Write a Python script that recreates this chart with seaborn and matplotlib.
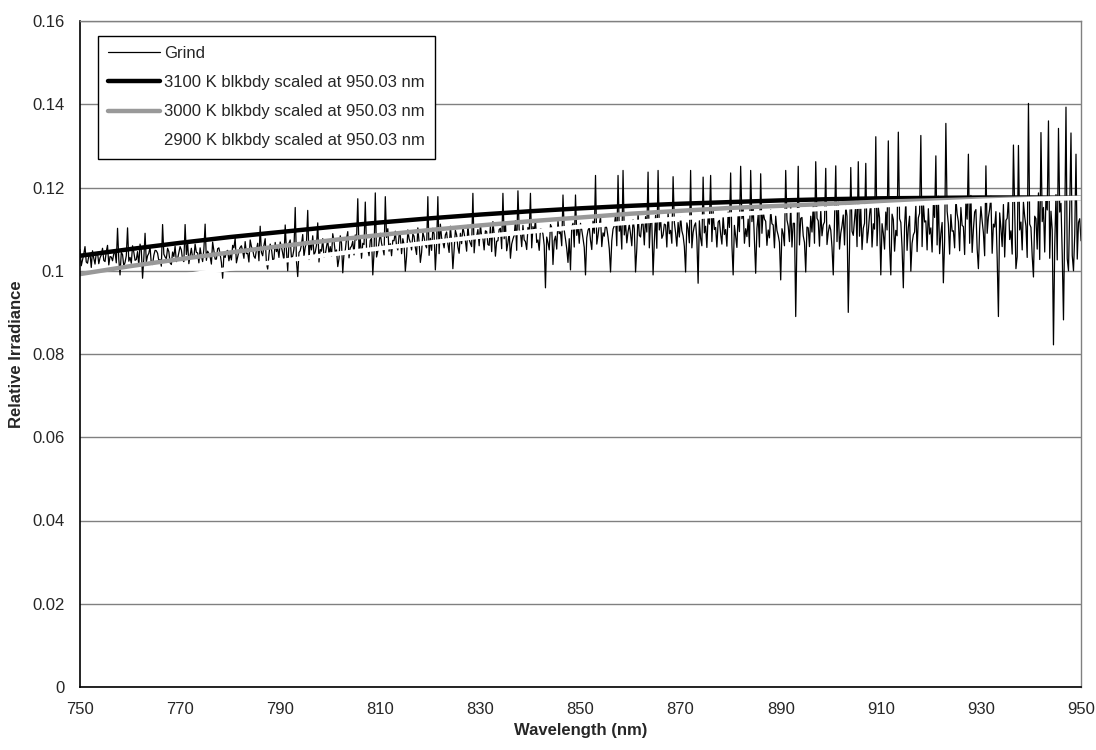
import numpy as np
import pandas as pd
import seaborn as sns
import matplotlib.pyplot as plt

# Grind spectrum (units of 1e-4), one row = 10 nm
# samples at 750.0, 750.5, ... 950.0 nm
grind_a = [
    1051, 1026, 1058, 1018, 1041, 1048, 1016, 1044, 1031, 1054, 1022, 1061, 1034, 1024, 1046, 1102, 990, 1039, 1020, 1103,
    1032, 1060, 1025, 1046, 1064, 982, 1090, 1036, 1057, 1015, 1049, 1042, 1027, 1111, 1033, 1054, 1019, 1045, 1059, 1029,
    1058, 1026, 1111, 1068, 1037, 1030, 1064, 1043, 1055, 1022, 1112, 1047, 1034, 1069, 1028, 1053, 1040, 982, 1032, 1049,
    1039, 1061, 1078, 1033, 1056, 1047, 1070, 1042, 1074, 1051, 1030, 1066, 1107, 1036, 1077, 1004, 1064, 1027, 1068, 1053,
    1069, 1042, 1110, 1000, 1074, 1035, 1152, 986, 1048, 1087, 1056, 1145, 1071, 1084, 1045, 1115, 1051, 1077, 1038, 1073,
    1058, 1089, 1044, 1010, 1084, 995, 1049, 1094, 1055, 1071, 1086, 1173, 1078, 1066, 1165, 1052, 1073, 990, 1187, 1047,
    1090, 1054, 1178, 1101, 1065, 1073, 1095, 1050, 1085, 1077, 999, 1098, 1068, 1088, 1056, 1103, 1020, 1092, 1062, 1178,
    1078, 1102, 1002, 1178, 1112, 1069, 1086, 1064, 1107, 1005, 1097, 1057, 1090, 1105, 1072, 1109, 1066, 1186, 1081, 1099,
    1111, 1078, 1096, 1063, 1107, 1118, 1035, 1072, 1102, 1186, 1115, 1067, 1030, 1076, 1120, 1192, 1094, 1109, 1070, 1104,
    1186, 1106, 1123, 1074, 1101, 1088, 959, 1068, 1111, 1015, 1083, 1120, 1093, 1182, 1076, 1020, 1002, 1114, 1182, 1109,
    1114, 1078, 990, 1097, 1073, 1119, 1229, 1085, 1130, 1091, 1111, 1081, 997, 1100, 1133, 1229, 1109, 1241, 1116, 1094,
    1088, 1122, 997, 1137, 1081, 1113, 1130, 1237, 1118, 990, 1133, 1241, 1125, 1086, 1110, 1139, 1097, 1226, 1091, 1116,
    1130, 1084, 997, 1101, 1241, 1092, 1115, 970, 1078, 1225, 1107, 1135, 1229, 1143, 1104, 1117, 1088, 1132, 1099, 1141,
    1235, 990, 1082, 1139, 1251, 1148, 1101, 1124, 1241, 1153, 994, 1134, 1233, 1142, 1119, 1098, 1146, 1110, 1131, 1085,
    978, 1089, 1241, 1107, 1160, 1114, 890, 1251, 1126, 1084, 997, 1103, 1131, 1157, 1262, 1120, 1146, 1110, 1246, 1092,
    1098, 990, 1252, 1166, 1090, 1134, 1155, 900, 1248, 1085, 1160, 1262, 1149, 1102, 1258, 1094, 1164, 1113, 1322, 1153,
    990, 1090, 1141, 1312, 990, 1123, 1097, 1333, 1116, 959, 1167, 1104, 999, 1086, 1157, 1127, 1325, 1165, 1120, 1149,
    1103, 1159, 1276, 1179, 1089, 971, 1354, 1112, 1135, 1096, 1174, 1118, 1152, 1106, 1165, 1280, 1181, 1099, 1147, 1005,
    1154, 1091, 1252, 1129, 1179, 1112, 1142, 890, 1102, 1159, 1121, 1174, 1096, 1302, 1005, 1301, 1117, 1165, 1107, 1402,
    1104, 985, 1125, 1187, 1332, 1152, 1178, 1360, 1143, 822, 1183, 1342, 1162, 882, 1393, 1000, 1331, 1000, 1280, 1116,
    1072,
]
# samples in between, at 750.25, 750.75, ... 949.75 nm
grind_b = [
    1012, 1040, 1021, 1035, 1008, 1030, 1043, 1017, 1038, 1025, 1046, 1014, 1033, 1041, 1019, 1028, 1044, 1011, 1036, 1023,
    1018, 1045, 1027, 1013, 1049, 1030, 1021, 1042, 1016, 1037, 1048, 1024, 1011, 1040, 1029, 1046, 1015, 1034, 1022, 1043,
    1050, 1022, 1039, 1017, 1054, 1031, 1044, 1019, 1036, 1052, 1025, 1041, 1016, 1048, 1028, 1055, 1020, 1038, 1046, 1024,
    1026, 1055, 1019, 1047, 1060, 1030, 1041, 1021, 1058, 1035, 1050, 1024, 1044, 1061, 1018, 1039, 1053, 1028, 1046, 1032,
    1057, 1025, 1048, 1066, 1031, 1052, 1022, 1044, 1063, 1034, 1069, 1027, 1050, 1038, 1061, 1021, 1047, 1033, 1058, 1040,
    1035, 1071, 1050, 1029, 1066, 1042, 1077, 1031, 1059, 1038, 1074, 1046, 1030, 1063, 1054, 1036, 1078, 1044, 1033, 1068,
    1066, 1038, 1080, 1047, 1036, 1072, 1058, 1085, 1041, 1063, 1035, 1077, 1050, 1083, 1039, 1069, 1044, 1081, 1055, 1037,
    1049, 1088, 1062, 1041, 1079, 1055, 1093, 1044, 1070, 1052, 1086, 1042, 1065, 1090, 1047, 1075, 1058, 1043, 1083, 1060,
    1082, 1050, 1094, 1061, 1046, 1088, 1071, 1099, 1053, 1077, 1048, 1092, 1064, 1085, 1049, 1097, 1058, 1074, 1051, 1090,
    1055, 1094, 1068, 1049, 1100, 1061, 1081, 1050, 1104, 1072, 1052, 1089, 1060, 1097, 1053, 1077, 1105, 1057, 1085, 1066,
    1098, 1056, 1079, 1105, 1051, 1090, 1064, 1110, 1058, 1083, 1102, 1053, 1072, 1108, 1060, 1095, 1052, 1086, 1067, 1111,
    1060, 1101, 1053, 1085, 1114, 1062, 1093, 1055, 1117, 1070, 1054, 1098, 1078, 1112, 1057, 1089, 1066, 1116, 1059, 1081,
    1096, 1058, 1115, 1067, 1055, 1108, 1074, 1120, 1060, 1091, 1056, 1112, 1070, 1099, 1057, 1121, 1064, 1087, 1059, 1104,
    1062, 1109, 1056, 1094, 1125, 1066, 1082, 1058, 1118, 1072, 1102, 1057, 1090, 1124, 1061, 1079, 1113, 1055, 1097, 1068,
    1101, 1060, 1122, 1070, 1057, 1114, 1079, 1062, 1128, 1068, 1105, 1058, 1093, 1066, 1126, 1059, 1084, 1117, 1063, 1110,
    1056, 1118, 1070, 1052, 1108, 1062, 1131, 1055, 1095, 1124, 1058, 1083, 1051, 1114, 1067, 1134, 1057, 1100, 1060, 1127,
    1113, 1052, 1098, 1060, 1136, 1047, 1084, 1125, 1055, 1107, 1049, 1131, 1066, 1093, 1046, 1138, 1058, 1117, 1050, 1088,
    1045, 1128, 1062, 1041, 1116, 1070, 1143, 1040, 1095, 1055, 1137, 1048, 1109, 1039, 1124, 1066, 1044, 1141, 1053, 1101,
    1120, 1036, 1090, 1148, 1042, 1105, 1031, 1139, 1058, 1033, 1126, 1075, 1040, 1145, 1034, 1098, 1050, 1130, 1032, 1112,
    1035, 1131, 1052, 1027, 1118, 1045, 1146, 1030, 1098, 1060, 1026, 1141, 1040, 1108, 1029, 1150, 1037, 1087, 1028, 1125,
]

# blackbody curves scaled at 950.03 nm
bb_nm = [750, 760, 770, 780, 790, 800, 810, 820, 830, 840, 850,
         860, 870, 880, 890, 900, 910, 920, 930, 940, 950]
bb_3100 = [0.1036, 0.1052, 0.1067, 0.1081, 0.1093, 0.1105, 0.1116, 0.1126, 0.1135, 0.1143, 0.1150,
           0.1156, 0.1161, 0.1165, 0.1169, 0.1172, 0.1174, 0.1175, 0.1176, 0.1176, 0.1175]
bb_3000 = [0.0992, 0.1011, 0.1028, 0.1044, 0.1059, 0.1073, 0.1086, 0.1098, 0.1109, 0.1119, 0.1128,
           0.1137, 0.1144, 0.1151, 0.1156, 0.1161, 0.1166, 0.1169, 0.1172, 0.1174, 0.1175]
bb_2900 = [0.0948, 0.0968, 0.0987, 0.1005, 0.1023, 0.1039, 0.1054, 0.1068, 0.1082, 0.1094, 0.1106,
           0.1116, 0.1126, 0.1135, 0.1143, 0.1150, 0.1157, 0.1163, 0.1168, 0.1172, 0.1175]

x_ticks = [750, 770, 790, 810, 830, 850, 870, 890, 910, 930, 950]
y_ticks = [0, 0.02, 0.04, 0.06, 0.08, 0.1, 0.12, 0.14, 0.16]
y_labels = ['0', '0.02', '0.04', '0.06', '0.08', '0.1', '0.12', '0.14', '0.16']

# put both sample sets on their wavelengths and sort
df_grind = pd.concat([
    pd.DataFrame({'nm': np.linspace(750, 950, len(grind_a)), 'val': np.array(grind_a) / 1e4}),
    pd.DataFrame({'nm': np.linspace(750.25, 949.75, len(grind_b)), 'val': np.array(grind_b) / 1e4}),
]).sort_values('nm')
df_bb = pd.DataFrame({'nm': bb_nm, 'b3100': bb_3100, 'b3000': bb_3000, 'b2900': bb_2900})

sns.set_style("white")
plt.rcParams['font.family'] = ['Liberation Sans', 'DejaVu Sans']

fig = plt.figure(figsize=(10.96, 7.5), dpi=100)
ax = fig.add_axes([80 / 1096, 63 / 750, 1001 / 1096, 666 / 750])

sns.lineplot(data=df_grind, x='nm', y='val', ax=ax, color='black', linewidth=0.9,
             label='Grind', estimator=None, sort=False)
sns.lineplot(data=df_bb, x='nm', y='b3100', ax=ax, color='black', linewidth=3.2,
             label='3100 K blkbdy scaled at 950.03 nm', estimator=None)
sns.lineplot(data=df_bb, x='nm', y='b3000', ax=ax, color='#999999', linewidth=3.2,
             label='3000 K blkbdy scaled at 950.03 nm', estimator=None)
sns.lineplot(data=df_bb, x='nm', y='b2900', ax=ax, color='white', linewidth=3.2,
             label='2900 K blkbdy scaled at 950.03 nm', estimator=None)

ax.set_xlim(750, 950)
ax.set_ylim(0, 0.16)
ax.set_xticks(x_ticks)
ax.set_yticks(y_ticks)
ax.set_yticklabels(y_labels)
ax.tick_params(axis='both', labelsize=12, direction='out', length=5, width=1, color='black', pad=6)
ax.yaxis.grid(True, color='#808080', linewidth=1)
ax.xaxis.grid(False)
ax.set_axisbelow(True)

for s in ['left', 'bottom']:
    ax.spines[s].set_color('black')
    ax.spines[s].set_linewidth(1.2)
for s in ['top', 'right']:
    ax.spines[s].set_color('#808080')
    ax.spines[s].set_linewidth(1)

ax.set_xlabel('Wavelength (nm)', fontsize=12, fontweight='bold', labelpad=4)
ax.set_ylabel('Relative Irradiance', fontsize=12, fontweight='bold', labelpad=6)

leg = ax.legend(loc='upper left', bbox_to_anchor=(98 / 1096, 1 - 36 / 750),
                bbox_transform=fig.transFigure, borderaxespad=0, fontsize=12,
                frameon=True, fancybox=False, edgecolor='black', framealpha=1,
                handlelength=3.1, handletextpad=0.25, labelspacing=0.85, borderpad=0.6)
leg.get_frame().set_linewidth(1)

fig.savefig('out.png', dpi=100, facecolor='white')
